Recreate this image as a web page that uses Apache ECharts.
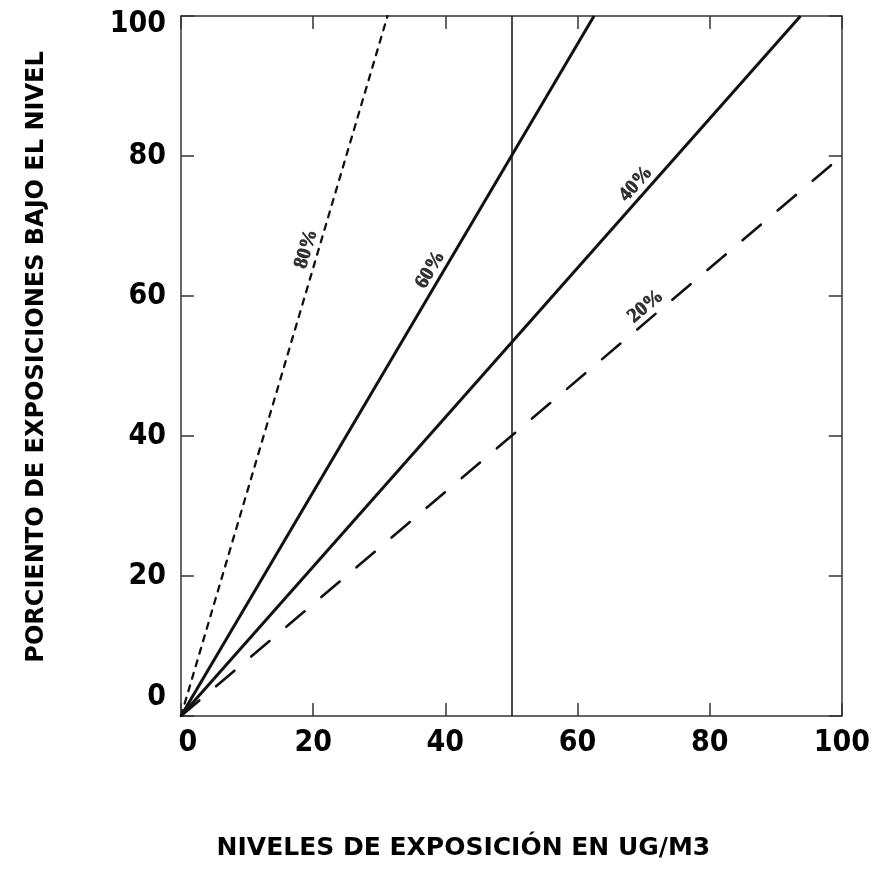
<!DOCTYPE html>
<html>
<head>
<meta charset="utf-8">
<title>Porciento de exposiciones bajo el nivel</title>
<script src="https://cdn.jsdelivr.net/npm/echarts@6/dist/echarts.min.js"></script>
<style>
  html, body { margin: 0; padding: 0; background: #ffffff; }
  #chart { width: 873px; height: 878px; }
</style>
</head>
<body>
<div id="chart"></div>
<script>
// Axis ticks (percent / exposure level)
const xTicks = [0, 20, 40, 60, 80, 100];
const yTicks = [0, 20, 40, 60, 80, 100];

// Each curve: percentage label and its two end points [level, percent]
const curveNames = ['80%', '60%', '40%', '20%'];
const curve80 = [[0, 0], [31.25, 100]];
const curve60 = [[0, 0], [62.5, 100]];
const curve40 = [[0, 0], [93.75, 100]];
const curve20 = [[0, 0], [100, 80]];
const curves = [curve80, curve60, curve40, curve20];

// Level along each curve where its label sits
const labelAtLevel = [20.7, 39.3, 70.2, 71.5];

// Reference level marked by the vertical line
const referenceLevel = 50;

const xTitle = 'NIVELES DE EXPOSICIÓN EN UG/M3';
const yTitle = 'PORCIENTO DE EXPOSICIONES BAJO EL NIVEL';

const GRID = { left: 181, top: 16, right: 30, bottom: 162 };
const W = 873, H = 878;
const gridW = W - GRID.left - GRID.right;
const gridH = H - GRID.top - GRID.bottom;
const pxX = gridW / (xTicks[xTicks.length - 1] - xTicks[0]);
const pxY = gridH / (yTicks[yTicks.length - 1] - yTicks[0]);

const tickFont = "'DejaVu Sans Condensed', 'DejaVu Sans', sans-serif";
const titleFont = "'DejaVu Sans', sans-serif";

const lineStyles = [
  { color: '#111', width: 2.3, type: [6, 7], cap: 'round' },
  { color: '#111', width: 3, type: 'solid' },
  { color: '#111', width: 3, type: 'solid' },
  { color: '#111', width: 2.6, type: [24, 22], cap: 'round' }
];

const series = [];
curves.forEach(function (pts, i) {
  const s = {
    type: 'line',
    name: curveNames[i],
    data: pts,
    symbol: 'none',
    lineStyle: lineStyles[i],
    silent: true,
    z: 3
  };
  if (i === 0) {
    s.markLine = {
      silent: true,
      symbol: 'none',
      label: { show: false },
      lineStyle: { color: '#111', width: 1.5, type: 'solid' },
      data: [{ xAxis: referenceLevel }]
    };
  }
  series.push(s);
});

// Labels placed just above each curve, rotated along it
const labelData = curves.map(function (pts, i) {
  const p0 = pts[0], p1 = pts[pts.length - 1];
  const slope = (p1[1] - p0[1]) / (p1[0] - p0[0]);
  const theta = Math.atan2(slope * pxY, pxX);
  const d = 12;
  const x0 = labelAtLevel[i];
  const y0 = p0[1] + slope * (x0 - p0[0]);
  return {
    value: [x0 - d * Math.sin(theta) / pxX, y0 + d * Math.cos(theta) / pxY],
    label: { rotate: theta * 180 / Math.PI, formatter: curveNames[i] }
  };
});
series.push({
  type: 'scatter',
  data: labelData,
  symbolSize: 1,
  itemStyle: { color: 'rgba(0,0,0,0)' },
  silent: true,
  z: 4,
  label: {
    show: true,
    position: 'inside',
    color: '#000',
    fontFamily: "'Liberation Serif', serif",
    fontWeight: 'bold',
    fontSize: 20,
    textBorderColor: '#000',
    textBorderWidth: 0.6
  }
});

const commonAxisLine = { show: true, onZero: false, lineStyle: { color: '#333', width: 1.5 } };
const commonTick = { show: true, inside: true, length: 13, lineStyle: { color: '#333', width: 1.5 } };

const option = {
  backgroundColor: '#ffffff',
  animation: false,
  grid: GRID,
  xAxis: [
    {
      type: 'value', min: xTicks[0], max: xTicks[xTicks.length - 1], interval: 20,
      position: 'bottom',
      axisLine: commonAxisLine, axisTick: commonTick, splitLine: { show: false },
      axisLabel: {
        margin: 12,
        color: '#000', fontFamily: tickFont, fontWeight: 'bold', fontSize: 30,
        formatter: function (v) { return v === 0 ? '{first|0}' : String(v); },
        rich: { first: { padding: [0, 0, 0, 14], fontFamily: tickFont, fontWeight: 'bold', fontSize: 30, color: '#000' } }
      },
      name: xTitle, nameLocation: 'middle', nameGap: 120,
      nameTextStyle: { color: '#000', fontFamily: titleFont, fontWeight: 'bold', fontSize: 25, padding: [0, 96, 0, 0] }
    },
    {
      type: 'value', min: xTicks[0], max: xTicks[xTicks.length - 1], interval: 20,
      position: 'top',
      axisLine: commonAxisLine, axisTick: commonTick, splitLine: { show: false },
      axisLabel: { show: false }
    }
  ],
  yAxis: [
    {
      type: 'value', min: yTicks[0], max: yTicks[yTicks.length - 1], interval: 20,
      position: 'left',
      axisLine: commonAxisLine, axisTick: commonTick, splitLine: { show: false },
      axisLabel: {
        margin: 15,
        color: '#000', fontFamily: tickFont, fontWeight: 'bold', fontSize: 30,
        formatter: function (v) {
          if (v === 0) return '{lo|0}';
          if (v === 100) return '{hi|100}';
          return String(v);
        },
        rich: {
          lo: { padding: [0, 0, 38, 0], fontFamily: tickFont, fontWeight: 'bold', fontSize: 30, color: '#000' },
          hi: { padding: [16, 0, 0, 0], fontFamily: tickFont, fontWeight: 'bold', fontSize: 30, color: '#000' }
        }
      },
      name: yTitle, nameLocation: 'middle', nameGap: 132, nameRotate: 90,
      nameTextStyle: { color: '#000', fontFamily: titleFont, fontWeight: 'bold', fontSize: 24, padding: [0, 0, 0, 18] }
    },
    {
      type: 'value', min: yTicks[0], max: yTicks[yTicks.length - 1], interval: 20,
      position: 'right',
      axisLine: commonAxisLine, axisTick: commonTick, splitLine: { show: false },
      axisLabel: { show: false }
    }
  ],
  series: series
};

const chart = echarts.init(document.getElementById('chart'), null, { renderer: 'canvas' });
chart.setOption(option);
</script>
</body>
</html>
